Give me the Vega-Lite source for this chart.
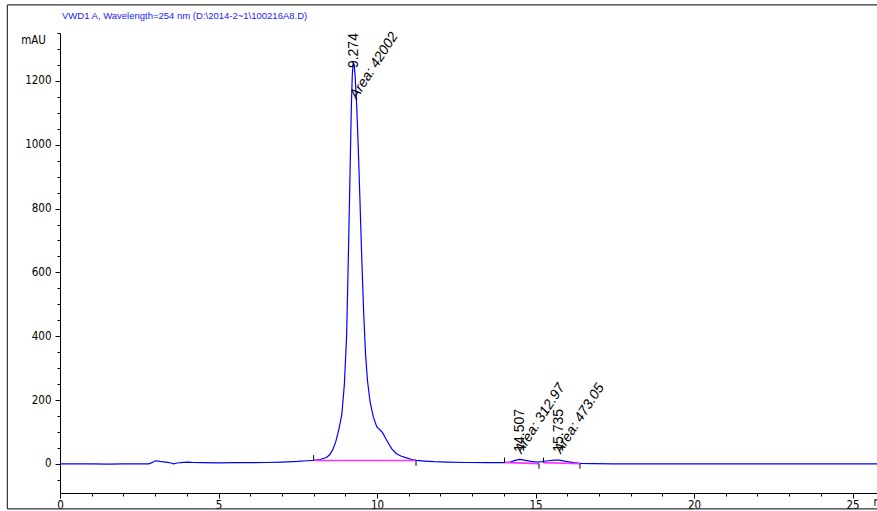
{
  "$schema": "https://vega.github.io/schema/vega-lite/v6.json",
  "autosize": {"type": "none"},
  "width": 817,
  "height": 460,
  "padding": {"left": 60, "top": 33, "right": 0, "bottom": 18},
  "background": "white",
  "config": {"view": {"stroke": null}},
  "title": {
    "text": "VWD1 A, Wavelength=254 nm (D:\\2014-2~1\\100216A8.D)",
    "anchor": "start",
    "frame": "group",
    "font": "Liberation Sans",
    "fontSize": 9.5,
    "fontWeight": "normal",
    "color": "#1a1aff",
    "baseline": "alphabetic",
    "offset": -24,
    "dx": 2
  },
  "datasets": {
    "trace": [
      {"t": 0, "v": 0}, {"t": 0.5, "v": 0}, {"t": 1.0, "v": 0}, {"t": 1.5, "v": -0.5}, {"t": 2.0, "v": 0},
      {"t": 2.5, "v": 0}, {"t": 2.8, "v": 0.5}, {"t": 2.9, "v": 4}, {"t": 3.0, "v": 10}, {"t": 3.1, "v": 9},
      {"t": 3.2, "v": 7}, {"t": 3.4, "v": 5}, {"t": 3.5, "v": 3}, {"t": 3.58, "v": 0.5}, {"t": 3.7, "v": 3},
      {"t": 3.9, "v": 5}, {"t": 4.05, "v": 6}, {"t": 4.2, "v": 4.5}, {"t": 4.5, "v": 4}, {"t": 5.0, "v": 3.5},
      {"t": 5.5, "v": 4}, {"t": 6.0, "v": 4}, {"t": 6.5, "v": 4.5}, {"t": 7.0, "v": 6}, {"t": 7.5, "v": 8},
      {"t": 7.8, "v": 10}, {"t": 8.0, "v": 11}, {"t": 8.2, "v": 14}, {"t": 8.4, "v": 20}, {"t": 8.5, "v": 28},
      {"t": 8.6, "v": 44}, {"t": 8.7, "v": 70}, {"t": 8.8, "v": 110}, {"t": 8.89, "v": 155}, {"t": 8.97, "v": 250},
      {"t": 9.04, "v": 400}, {"t": 9.1, "v": 670}, {"t": 9.15, "v": 920}, {"t": 9.19, "v": 1120}, {"t": 9.22, "v": 1220},
      {"t": 9.25, "v": 1256}, {"t": 9.28, "v": 1250}, {"t": 9.31, "v": 1215}, {"t": 9.36, "v": 1120}, {"t": 9.41, "v": 984},
      {"t": 9.46, "v": 830}, {"t": 9.52, "v": 640}, {"t": 9.58, "v": 470}, {"t": 9.64, "v": 340}, {"t": 9.70, "v": 260},
      {"t": 9.78, "v": 195}, {"t": 9.88, "v": 148}, {"t": 9.99, "v": 117}, {"t": 10.08, "v": 108}, {"t": 10.17, "v": 99},
      {"t": 10.3, "v": 75}, {"t": 10.46, "v": 48}, {"t": 10.6, "v": 33}, {"t": 10.75, "v": 25}, {"t": 10.93, "v": 19},
      {"t": 11.1, "v": 14}, {"t": 11.25, "v": 11}, {"t": 11.5, "v": 9}, {"t": 11.8, "v": 7}, {"t": 12.2, "v": 5.5},
      {"t": 12.8, "v": 4.5}, {"t": 13.5, "v": 4}, {"t": 14.0, "v": 4}, {"t": 14.2, "v": 6}, {"t": 14.35, "v": 11},
      {"t": 14.5, "v": 14}, {"t": 14.65, "v": 12}, {"t": 14.85, "v": 8}, {"t": 15.05, "v": 6}, {"t": 15.2, "v": 7},
      {"t": 15.4, "v": 10}, {"t": 15.6, "v": 12}, {"t": 15.75, "v": 12}, {"t": 15.95, "v": 8}, {"t": 16.2, "v": 4},
      {"t": 16.4, "v": 2}, {"t": 16.8, "v": 1}, {"t": 17.5, "v": 0.5}, {"t": 18.3, "v": 0.5}, {"t": 19.0, "v": 0.5},
      {"t": 20, "v": 0.3}, {"t": 21, "v": 0}, {"t": 22, "v": 0}, {"t": 23, "v": 0}, {"t": 24, "v": 0},
      {"t": 25, "v": 0}, {"t": 25.77, "v": 0}
    ],
    "baselines": [
      {"seg": "A", "t": 8.0, "v": 11}, {"seg": "A", "t": 11.23, "v": 11},
      {"seg": "B", "t": 14.02, "v": 4.5}, {"seg": "B", "t": 15.11, "v": 1},
      {"seg": "C", "t": 15.25, "v": 4}, {"seg": "C", "t": 16.4, "v": 0.5}
    ],
    "marks": [
      {"t": 8.0, "v1": 11, "v2": 28},
      {"t": 11.23, "v1": 11, "v2": -6},
      {"t": 14.02, "v1": 4.5, "v2": 20},
      {"t": 15.11, "v1": 1, "v2": -15},
      {"t": 15.25, "v1": 4, "v2": 20},
      {"t": 16.4, "v1": 0.5, "v2": -15}
    ],
    "rt": [
      {"t": 9.274, "v": 1240, "label": "9.274"},
      {"t": 14.507, "v": 38, "label": "14.507"},
      {"t": 15.735, "v": 38, "label": "15.735"}
    ],
    "area": [
      {"t": 9.36, "v": 1140, "label": "Area: 42002"},
      {"t": 14.56, "v": 30, "label": "Area: 312.97"},
      {"t": 15.8, "v": 30, "label": "Area: 473.05"}
    ],
    "frame": [
      {"x1": -1.66, "x2": 28, "y1": 1438, "y2": 1438},
      {"x1": -1.66, "x2": -1.66, "y1": 1438, "y2": -141},
      {"x1": -1.66, "x2": 28, "y1": -141, "y2": -141}
    ]
  },
  "layer": [
    {
      "data": {"name": "trace"},
      "mark": {"type": "line", "color": "#0000ff", "strokeWidth": 1.2},
      "encoding": {
        "x": {
          "field": "t", "type": "quantitative", "title": "min",
          "scale": {"domain": [0, 25.77], "nice": false, "zero": false},
          "axis": {
            "values": [0,1,2,3,4,5,6,7,8,9,10,11,12,13,14,15,16,17,18,19,20,21,22,23,24,25],
            "tickCount": 200,
            "format": "d",
            "labelExpr": "datum.value % 5 === 0 ? datum.label : ''",
            "tickSize": {"condition": {"test": "datum.value % 5 === 0", "value": 5}, "value": 3},
            "grid": false,
            "domainColor": "black",
            "tickColor": "black",
            "labelColor": "black",
            "labelFont": "Liberation Sans Narrow, Arial Narrow, DejaVu Sans Condensed, sans-serif",
            "labelFontSize": 11.5,
            "labelPadding": 1,
            "labelFlush": false,
            "labelOverlap": false,
            "title": "min",
            "titleX": 813,
            "titleY": 9,
            "titleAlign": "left",
            "titleBaseline": "middle",
            "titleFont": "Liberation Sans Narrow, Arial Narrow, DejaVu Sans Condensed, sans-serif",
            "titleFontSize": 11.5,
            "titleFontWeight": "normal",
            "titleColor": "black"
          }
        },
        "y": {
          "field": "v", "type": "quantitative", "title": "mAU",
          "scale": {"domain": [-91, 1350], "nice": false, "zero": false},
          "axis": {
            "values": [-50,0,50,100,150,200,250,300,350,400,450,500,550,600,650,700,750,800,850,900,950,1000,1050,1100,1150,1200,1250,1300,1350],
            "tickCount": 200,
            "format": "d",
            "labelExpr": "datum.value >= 0 && datum.value % 200 === 0 ? datum.label : ''",
            "tickSize": {"condition": {"test": "datum.value % 200 === 0", "value": 5}, "value": 3},
            "grid": false,
            "domainColor": "black",
            "tickColor": "black",
            "labelColor": "black",
            "labelFont": "Liberation Sans Narrow, Arial Narrow, DejaVu Sans Condensed, sans-serif",
            "labelFontSize": 11.5,
            "labelPadding": 4,
            "labelOverlap": false,
            "title": "mAU",
            "titleAngle": 0,
            "titleX": -27,
            "titleY": 7,
            "titleAlign": "center",
            "titleBaseline": "middle",
            "titleFont": "Liberation Sans Narrow, Arial Narrow, DejaVu Sans Condensed, sans-serif",
            "titleFontSize": 11.5,
            "titleFontWeight": "normal",
            "titleColor": "black"
          }
        }
      }
    },
    {
      "data": {"name": "frame"},
      "mark": {"type": "rule", "color": "#333333", "strokeWidth": 1.2, "clip": false},
      "encoding": {
        "x": {"field": "x1", "type": "quantitative", "title": "min"},
        "x2": {"field": "x2"},
        "y": {"field": "y1", "type": "quantitative", "title": "mAU"},
        "y2": {"field": "y2"}
      }
    },
    {
      "data": {"name": "baselines"},
      "mark": {"type": "line", "color": "#ff33ff", "strokeWidth": 1.6},
      "encoding": {
        "x": {"field": "t", "type": "quantitative", "title": "min"},
        "y": {"field": "v", "type": "quantitative", "title": "mAU"},
        "detail": {"field": "seg"}
      }
    },
    {
      "data": {"name": "marks"},
      "mark": {"type": "rule", "color": "black", "strokeWidth": 1},
      "encoding": {
        "x": {"field": "t", "type": "quantitative", "title": "min"},
        "y": {"field": "v1", "type": "quantitative", "title": "mAU"},
        "y2": {"field": "v2"}
      }
    },
    {
      "data": {"name": "rt"},
      "mark": {"type": "text", "angle": -90, "align": "left", "baseline": "middle", "font": "Liberation Sans, Arial, sans-serif", "fontSize": 14, "color": "black"},
      "encoding": {
        "x": {"field": "t", "type": "quantitative", "title": "min"},
        "y": {"field": "v", "type": "quantitative", "title": "mAU"},
        "text": {"field": "label"}
      }
    },
    {
      "data": {"name": "area"},
      "mark": {"type": "text", "angle": -57, "align": "left", "baseline": "alphabetic", "font": "Liberation Sans, Arial, sans-serif", "fontSize": 14, "fontStyle": "italic", "color": "black"},
      "encoding": {
        "x": {"field": "t", "type": "quantitative", "title": "min"},
        "y": {"field": "v", "type": "quantitative", "title": "mAU"},
        "text": {"field": "label"}
      }
    }
  ]
}
